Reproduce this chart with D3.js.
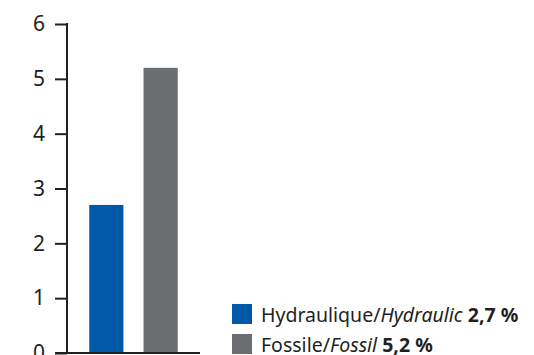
<!DOCTYPE html>
<html>
<head>
<meta charset="utf-8">
<script src="https://cdn.jsdelivr.net/npm/d3@7"></script>
<style>
  body { margin: 0; background: #fff; }
  text { font-family: "Noto Sans", sans-serif; fill: #231f20; }
</style>
</head>
<body>
<svg id="chart" width="534" height="355"></svg>
<script>
  // data
  var categories = ["Hydraulique", "Fossile"];
  var labelsFr = ["Hydraulique/", "Fossile/"];
  var labelsEn = ["Hydraulic", "Fossil"];
  var values = [2.7, 5.2];
  var valueLabels = ["2,7 %", "5,2 %"];
  var yTicks = [0, 1, 2, 3, 4, 5, 6];
  var colors = ["#0059a8", "#6c6d70"];

  var svg = d3.select("#chart");
  var axisX = 67, plotTop = 24, plotBottom = 353;

  var y = d3.scaleLinear().domain([0, 6]).range([plotBottom, plotTop]);
  var x = d3.scaleBand().domain(categories).range([axisX, 200])
      .paddingInner(0.37).paddingOuter(0.41);

  // bars
  svg.selectAll("rect.bar")
      .data(values)
      .enter().append("rect")
      .attr("class", "bar")
      .attr("x", function (d, i) { return x(categories[i]); })
      .attr("width", x.bandwidth())
      .attr("y", function (d) { return y(d); })
      .attr("height", function (d) { return y(0) - y(d); })
      .attr("fill", function (d, i) { return colors[i]; });

  // y axis
  var yAxis = d3.axisLeft(y).tickValues(yTicks).tickSize(12).tickPadding(10)
      .tickFormat(d3.format("d"));
  var g = svg.append("g").attr("transform", "translate(" + axisX + ",0)").call(yAxis);
  g.select(".domain").remove();
  g.selectAll(".tick line").attr("stroke", "#231f20").attr("stroke-width", 2);
  g.selectAll(".tick text").attr("font-size", 21).attr("fill", "#231f20")
      .style("font-family", "'Noto Sans', sans-serif");

  svg.append("line").attr("x1", axisX).attr("x2", axisX)
      .attr("y1", plotTop - 1).attr("y2", plotBottom + 1)
      .attr("stroke", "#231f20").attr("stroke-width", 2);
  svg.append("line").attr("x1", axisX - 12).attr("x2", 200)
      .attr("y1", plotBottom).attr("y2", plotBottom)
      .attr("stroke", "#231f20").attr("stroke-width", 2);

  // legend
  var legend = svg.selectAll("g.legend")
      .data(categories)
      .enter().append("g")
      .attr("class", "legend")
      .attr("transform", function (d, i) { return "translate(232," + (304 + i * 30) + ")"; });

  legend.append("rect").attr("width", 20).attr("height", 20)
      .attr("fill", function (d, i) { return colors[i]; });

  var t = legend.append("text").attr("x", 29).attr("y", 17.5).attr("font-size", 19.5);
  t.append("tspan").text(function (d, i) { return labelsFr[i]; });
  t.append("tspan").attr("font-style", "italic").text(function (d, i) { return labelsEn[i]; });
  t.append("tspan").attr("font-weight", "bold").text(function (d, i) { return " " + valueLabels[i]; });
</script>
</body>
</html>
